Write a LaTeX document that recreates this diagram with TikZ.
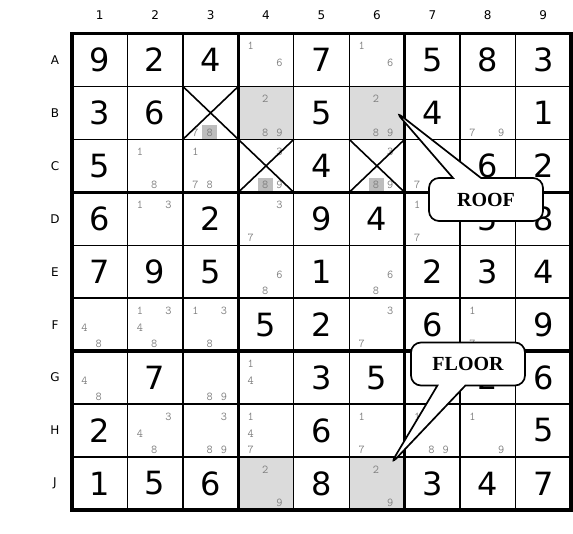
\documentclass[tikz,border=0pt]{standalone}
\usepackage{fontspec}
\usetikzlibrary{shapes.callouts}
\newfontfamily\bigfont{DejaVu Sans}
\newfontfamily\callfont{Liberation Serif}
\def\cw{55.44}
\def\ch{52.94}
\begin{document}
\begin{tikzpicture}[x=1pt,y=-1pt,
	given/.style={font=\bigfont\fontsize{32}{32}\selectfont},
	cand/.style={font=\ttfamily\fontsize{12}{12}\selectfont,text=black!50,inner sep=0pt},
	lbl/.style={font=\bigfont\fontsize{12}{12}\selectfont},
	gline/.style={line width=1.4pt},
	bline/.style={line width=3.6pt},
	sel/.style={fill=black!14},
	hit/.style={fill=black!26},
	cross/.style={line width=1.6pt},
	bubble/.style={rectangle callout,draw,fill=white,line width=1.7pt,rounded corners=10pt,minimum width=114pt,minimum height=43pt,callout pointer width=28pt,font=\callfont\bfseries\fontsize{20}{20}\selectfont}]
	\useasboundingbox (0,0) rectangle (573,534);
	% shaded cells and marked eights
	\foreach \r/\c in {2/4,2/6,9/4,9/6}\fill[sel] ({72+(\c-1)*\cw},{33.5+(\r-1)*\ch}) rectangle ++(\cw,\ch);
	\foreach \r/\c in {2/3,3/4,3/6}\fill[hit] ({72+(\c-1)*\cw+19.3},{33.5+(\r-1)*\ch+39}) rectangle ++(15,14);
	% pencil marks
	\foreach \r/\c/\ds in {1/4/{1,6},1/6/{1,6},2/3/{7,8},2/4/{2,8,9},2/6/{2,8,9},2/8/{7,9},3/2/{1,8},3/3/{1,7,8},3/4/{3,8,9},3/6/{3,8,9},3/7/{7},4/2/{1,3},4/4/{3,7},4/7/{1,7},5/4/{6,8},5/6/{6,8},6/1/{4,8},6/2/{1,3,4,8},6/3/{1,3,8},6/6/{3,7},6/8/{1,7},7/1/{4,8},7/3/{8,9},7/4/{1,4},8/2/{3,4,8},8/3/{3,8,9},8/4/{1,4,7},8/6/{1,7},8/7/{1,8,9},8/8/{1,9},9/4/{2,9},9/6/{2,9}}
		\foreach \d in \ds\path ({72+(\c-1)*\cw+12.5+14.3*mod(\d-1,3)},{33.5+(\r-1)*\ch+12.5+16.7*floor((\d-1)/3)}) node[cand] (p\r\c\d){\d};
	% givens
	\foreach \r/\c/\v in {1/1/9,1/2/2,1/3/4,1/5/7,1/7/5,1/8/8,1/9/3,2/1/3,2/2/6,2/5/5,2/7/4,2/9/1,3/1/5,3/5/4,3/8/6,3/9/2,4/1/6,4/3/2,4/5/9,4/6/4,4/8/5,4/9/8,5/1/7,5/2/9,5/3/5,5/5/1,5/7/2,5/8/3,5/9/4,6/4/5,6/5/2,6/7/6,6/9/9,7/2/7,7/5/3,7/6/5,7/8/2,7/9/6,8/1/2,8/5/6,8/9/5,9/1/1,9/2/5,9/3/6,9/5/8,9/7/3,9/8/4,9/9/7}
		\path ({72+(\c-.5)*\cw},{33.5+(\r-.5)*\ch}) node[given] (g\r\c){\v};
	% crossed cells
	\foreach \r/\c in {2/3,3/4,3/6}\draw[cross] ({72+(\c-1)*\cw},{33.5+(\r-1)*\ch}) -- ++(\cw,\ch) ++(0,-\ch) -- ++(-\cw,\ch);
	% grid
	\foreach \i in {1,2,4,5,7,8}\draw[gline] ({72+\i*\cw},33.5) -- ++(0,9*\ch) (72,{33.5+\i*\ch}) -- ++(9*\cw,0);
	\foreach \i in {3,6}\draw[bline] ({72+\i*\cw},33.5) -- ++(0,9*\ch) (72,{33.5+\i*\ch}) -- ++(9*\cw,0);
	\draw[bline] (72,33.5) rectangle ++(9*\cw,9*\ch);
	% labels
	\foreach \c in {1,...,9}\path ({72+(\c-.5)*\cw},15) node[lbl] (col\c){\c};
	\foreach \r/\t in {1/A,2/B,3/C,4/D,5/E,6/F,7/G,8/H,9/J}\path (55,{33.5+(\r-.5)*\ch}) node[lbl] (row\r){\t};
	% callouts
	\coordinate (rooftip) at (395,111);
	\coordinate (floortip) at (390,465);
	\node[bubble,callout absolute pointer={(rooftip)}] (roof) at (486,199.5) {ROOF};
	\node[bubble,callout absolute pointer={(floortip)}] (floor) at (468,364) {FLOOR};
\end{tikzpicture}
\end{document}
